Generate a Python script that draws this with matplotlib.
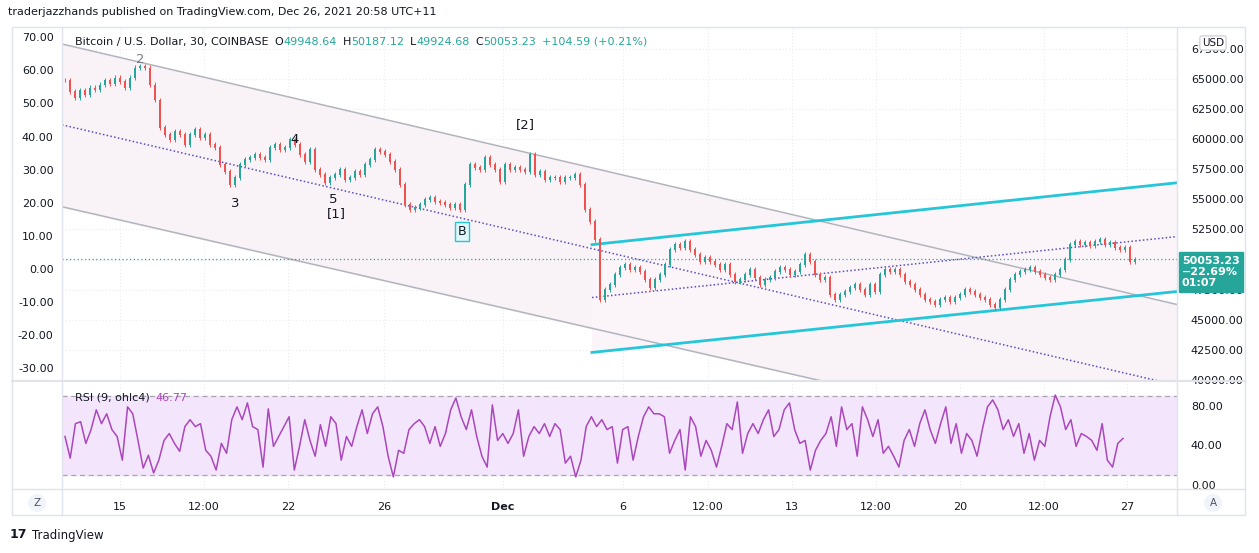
import matplotlib
matplotlib.use("Agg")
import matplotlib.pyplot as plt
import numpy as np
from matplotlib.patches import Rectangle

# ---------------- data ----------------
closes = [64920,63930,63430,64090,63680,64260,64090,64510,64920,64590,65090,64760,64260,65090,65920,66080,65920,64510,63260,60940,
60360,59950,60610,60360,59530,60360,60780,60110,60360,59530,59280,57880,57300,56220,56800,57880,58290,58460,58700,58460,
58290,59280,59530,59120,59280,59950,59530,58700,58120,59120,57460,57050,56380,56800,57050,57460,56630,56800,57300,57050,
57880,58290,59120,58950,58700,58120,57460,56220,54560,54150,54310,54560,54970,55140,54810,54730,54560,54310,54560,54150,
56220,57880,57630,57460,58460,57880,57460,56470,57880,57460,57630,57460,57300,58700,57050,57300,56630,56800,56800,56470,
56800,56800,57050,56220,54150,53150,51660,46680,47510,47930,48760,49340,49590,49170,49340,49000,48340,47680,48340,48760,
49590,50830,51240,50990,51490,50830,50410,49830,50170,49830,49590,49170,49590,48760,48180,48340,48760,49170,48510,47930,
48340,48510,49000,49340,49170,48760,49000,49590,50410,49830,48760,48340,48510,47100,46680,47100,47350,47680,47930,47510,
47100,47930,47350,48760,49170,49000,49170,48760,48180,47930,47510,47100,46680,46520,46270,46680,46850,46520,46850,47100,
47510,47350,47100,46850,46680,46270,46020,46680,47510,48340,48760,49000,49170,49340,49000,48760,48510,48340,48760,49170,
50000,51240,51490,51240,51410,51160,51490,51660,51240,51410,50990,50830,50990,49830,50053]

rsi = [49,27,62,64,42,56,76,62,72,56,49,25,79,72,45,17,30,12,25,45,52,42,34,59,66,59,62,35,29,15,42,32,66,79,66,83,59,56,18,77,
39,49,59,69,15,39,66,45,29,61,39,69,62,25,49,39,59,76,52,72,79,59,29,8,35,32,56,62,66,59,42,59,39,52,76,88,69,56,76,49,
29,18,81,45,52,42,52,76,29,49,59,52,62,49,62,56,22,29,8,25,59,69,59,66,
56,59,22,56,59,25,49,69,79,72,72,69,32,45,56,15,69,59,29,45,35,18,39,62,56,84,32,52,62,52,66,76,49,56,76,83,56,42,45,15,
35,45,52,69,39,79,56,62,29,79,66,49,66,32,39,29,18,45,56,39,62,76,56,42,62,79,42,62,32,52,45,29,56,79,86,76,56,66,49,62,
32,52,25,45,39,69,91,79,56,66,39,52,49,45,35,62,25,18,42,47]

# trend-line anchors (bar index, price)
gray_upper = ([-0.6, 222.4], [67906, 46270])
gray_lower = ([-0.6, 150.0], [54390, 40050])
purple_mid = ([-0.6, 219.0], [61190, 39890])
cyan_lower = ([105.4, 222.4], [42290, 47350])
cyan_upper = ([105.4, 222.4], [51240, 56380])
purple_mid2 = ([105.4, 222.4], [46850, 51910])

wave_labels = [("2", 15, 66580, "#787b86"), ("3", 34, 54640, "#131722"), ("4", 46, 59950, "#131722"),
               ("5", 53.6, 54970, "#131722"), ("[1]", 54.2, 53810, "#131722"), ("[2]", 92, 61190, "#131722")]
b_label = ("B", 79.4, 52320)

time_ticks = [11, 27.8, 44.6, 63.8, 87.6, 111.6, 128.6, 145.4, 162.2, 179, 195.8, 212.4]
time_labels = ["15", "12:00", "22", "26", "Dec", "6", "12:00", "13", "12:00", "20", "12:00", "27"]
price_ticks = [40000, 42500, 45000, 47500, 50000, 52500, 55000, 57500, 60000, 62500, 65000, 67500]
pct_ticks = [-30, -20, -10, 0, 10, 20, 30, 40, 50, 60, 70]
rsi_ticks = [0, 40, 80]
last_price = 50053.23

# ---------------- figure ----------------
W, H = 1259, 553
fig = plt.figure(figsize=(W/100, H/100), dpi=100)
def fx(px): return px / W
def fy(py): return 1 - py / H

GREEN, RED = "#26a69a", "#ef5350"
TXT = "#131722"
GRID = "#e9ecf2"
FS = 8

ax = fig.add_axes([fx(62), fy(380), fx(1177-62), (380-28)/H])
axr = fig.add_axes([fx(62), fy(488), fx(1177-62), (488-382)/H], sharex=ax)

axl = ax.twinx()
axl.yaxis.tick_left()
axl.set_ylim(-33.5, 72.8)
axl.set_yticks(pct_ticks)
axl.set_yticklabels([f"{v:.2f}" for v in pct_ticks])
axl.tick_params(length=0, labelsize=FS, colors=TXT, pad=6)
for s in axl.spines.values():
    s.set_visible(False)

for a in (ax, axr):
    for s in a.spines.values():
        s.set_visible(False)
    a.tick_params(length=0, labelsize=FS, colors=TXT)
    for t in time_ticks:
        a.axvline(t, color=GRID, lw=0.8, ls=(0, (1, 2)), zorder=0)

xmin, xmax = -0.6, 222.4
ax.set_xlim(xmin, xmax)
ax.set_ylim(40052, 69233)
ax.yaxis.tick_right()
ax.yaxis.set_label_position("right")
ax.set_yticks(price_ticks)
ax.set_yticklabels([f"{v:.2f}" for v in price_ticks])
for v in price_ticks:
    ax.axhline(v, color=GRID, lw=0.8, ls=(0, (1, 2)), zorder=0)
ax.tick_params(axis="y", pad=10, labelleft=False, labelright=True)
plt.setp(ax.get_xticklabels(), visible=False)

# channel fills
xx = np.linspace(xmin, xmax, 50)
up = np.interp(xx, gray_upper[0], gray_upper[1])
slope_l = (gray_lower[1][1]-gray_lower[1][0])/(gray_lower[0][1]-gray_lower[0][0])
lo = gray_lower[1][0] + slope_l*(xx-gray_lower[0][0])
ax.fill_between(xx, lo, up, color="#f9f2f7", zorder=0.5)
ax.fill_between(cyan_lower[0], cyan_lower[1], cyan_upper[1], color="#fbf5f9", zorder=0.6)

ax.plot(*gray_upper, color="#b2b5be", lw=1.1, zorder=2)
ax.plot(xx, lo, color="#b2b5be", lw=1.1, zorder=2)
ax.plot(*purple_mid, color="#5b4fc0", lw=1.1, ls=(0, (1, 1.5)), zorder=2)
ax.plot(*purple_mid2, color="#5b4fc0", lw=1.1, ls=(0, (1, 1.5)), zorder=2)
ax.plot(*cyan_lower, color="#26c6da", lw=2, zorder=3)
ax.plot(*cyan_upper, color="#26c6da", lw=2, zorder=3)
ax.axhline(last_price, color="#26a69a", lw=0.9, ls=(0, (1, 2)), zorder=2)

# candles
c = np.array(closes, dtype=float)
o = np.concatenate([[c[0]], c[:-1]])
idx = np.arange(len(c))
cols = [GREEN if cc >= oo else RED for cc, oo in zip(c, o)]
lo_b = np.minimum(o, c); hi_b = np.maximum(o, c)
ax.bar(idx, hi_b - lo_b + 60, bottom=lo_b - 30, width=0.5, color=cols, zorder=4, linewidth=0)
ax.vlines(idx, lo_b - 200, hi_b + 200, colors=cols, lw=0.7, zorder=4)

for t, x, y, col in wave_labels:
    ax.text(x, y, t, fontsize=9.5, color=col, ha="center", va="center", zorder=5)
ax.text(b_label[1], b_label[2], b_label[0], fontsize=9, color=TXT, ha="center", va="center", zorder=5,
        bbox=dict(boxstyle="square,pad=0.25", fc="#e0f7fa", ec="#26c6da", lw=1))

# RSI panel
axr.set_ylim(-3.2, 104.2)
axr.axhspan(10, 90, color="#f3e6fc", zorder=0.5)
axr.axhline(90, color="#a9a4b0", lw=0.9, ls=(0, (4, 3)))
axr.axhline(10, color="#a9a4b0", lw=0.9, ls=(0, (4, 3)))
rx = np.linspace(0, 211.6, len(rsi))
axr.plot(rx, rsi, color="#ab47bc", lw=1.1, zorder=3)
axr.yaxis.tick_right()
axr.set_yticks(rsi_ticks)
axr.set_yticklabels([f"{v:.2f}" for v in rsi_ticks])
axr.tick_params(axis="y", pad=10)
for v in [40, 80]:
    axr.axhline(v, color=GRID, lw=0.8, ls=(0, (1, 2)), zorder=0)
axr.set_xticks(time_ticks)
axr.set_xticklabels(time_labels)
axr.tick_params(axis="x", pad=10)
for lab in axr.get_xticklabels():
    if lab.get_text() == "Dec":
        lab.set_fontweight("bold")

# frame / separators
fig.add_artist(Rectangle((fx(12), fy(515)), fx(1245-12), (515-27)/H, transform=fig.transFigure,
                         fill=False, ec="#e0e3eb", lw=1))
fig.add_artist(plt.Line2D([fx(12), fx(1245)], [fy(381), fy(381)], transform=fig.transFigure, color="#e0e3eb", lw=1.5))
fig.add_artist(plt.Line2D([fx(12), fx(1245)], [fy(489), fy(489)], transform=fig.transFigure, color="#e0e3eb", lw=1))
fig.add_artist(plt.Line2D([fx(1177), fx(1177)], [fy(515), fy(27)], transform=fig.transFigure, color="#e0e3eb", lw=1))
fig.add_artist(plt.Line2D([fx(62), fx(62)], [fy(515), fy(27)], transform=fig.transFigure, color="#e0e3eb", lw=1))

# texts
fig.text(fx(8), fy(12), "traderjazzhands published on TradingView.com, Dec 26, 2021 20:58 UTC+11",
         fontsize=FS, color=TXT, va="center")

fig.canvas.draw()
ren = fig.canvas.get_renderer()
def run_text(pieces, x0, y0):
    x = x0
    for s, col, gap in pieces:
        t = fig.text(fx(x), fy(y0), s, fontsize=FS, color=col, va="center")
        x += t.get_window_extent(ren).width + gap

run_text([("Bitcoin / U.S. Dollar, 30, COINBASE", TXT, 6),
          ("O", TXT, 0), ("49948.64", GREEN, 6), ("H", TXT, 0), ("50187.12", GREEN, 6),
          ("L", TXT, 0), ("49924.68", GREEN, 6), ("C", TXT, 0), ("50053.23", GREEN, 6),
          ("+104.59 (+0.21%)", GREEN, 0)], 75, 42)
run_text([("RSI (9, ohlc4)", TXT, 6), ("46.77", "#ab47bc", 0)], 75, 398)

fig.text(fx(1182), fy(272), "50053.23\n\u221222.69%\n01:07", fontsize=FS, color="white", fontweight="bold",
         va="center", ha="left", linespacing=1.15,
         bbox=dict(boxstyle="square,pad=0.3", fc=GREEN, ec=GREEN))
fig.text(fx(1213), fy(43), "USD", fontsize=7.5, color=TXT, va="center", ha="center",
         bbox=dict(boxstyle="round,pad=0.2", fc="white", ec="#d1d4dc"))
fig.text(fx(37), fy(503), "Z", fontsize=7.5, color="#50535e", va="center", ha="center",
         bbox=dict(boxstyle="circle,pad=0.3", fc="#f0f3fa", ec="#f0f3fa"))
fig.text(fx(1213), fy(503), "A", fontsize=7.5, color="#50535e", va="center", ha="center",
         bbox=dict(boxstyle="circle,pad=0.3", fc="#f0f3fa", ec="#f0f3fa"))
fig.text(fx(10), fy(535), "17", fontsize=9, color=TXT, fontweight="bold", va="center")
fig.text(fx(32), fy(535), "TradingView", fontsize=FS + 0.5, color=TXT, va="center")

fig.savefig("out.png", dpi=100)
